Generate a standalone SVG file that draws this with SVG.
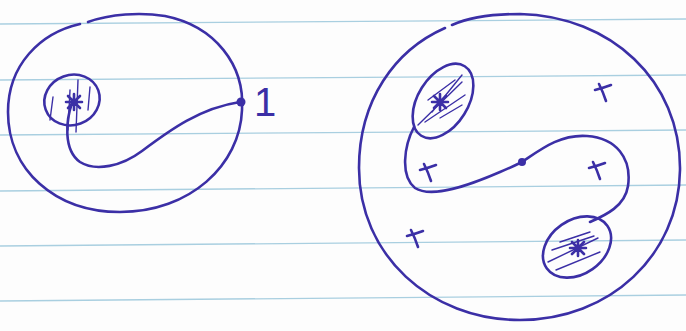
<svg xmlns="http://www.w3.org/2000/svg" width="686" height="331" viewBox="0 0 686 331">
<style>
.rule{stroke:#a9cfe0;stroke-width:1.3;fill:none}
.ink{stroke:#3b2fa6;stroke-width:2.6;fill:none;stroke-linecap:round;stroke-linejoin:round}
.thin{stroke:#3b2fa6;stroke-width:1.4;fill:none;stroke-linecap:round}
.dot{fill:#3b2fa6}
.lbl{font-family:"Liberation Sans",Arial,sans-serif;font-size:40px;fill:#3b2fa6}
</style>
<defs>
<g id="xm"><path class="ink" d="M-8,-2 Q0,-4 8,-7"/><path class="ink" d="M-4,-8 Q0,0 3,9"/></g>
<g id="star"><path class="ink" d="M-6,-6 L6,6 M6,-6 L-6,6 M0,-8 L0,8 M-8,0 L8,0"/></g>
</defs>
<rect width="686" height="331" fill="#fdfdfd"/>
<g id="paper">
<path class="rule" d="M0,24 L686,19"/>
<path class="rule" d="M0,80 L686,75"/>
<path class="rule" d="M0,135 L686,130"/>
<path class="rule" d="M0,191 L686,185"/>
<path class="rule" d="M0,246 L686,240"/>
<path class="rule" d="M0,301 L686,295"/>
</g>
<g id="left-disk">
<path class="ink" d="M88,22 C110,14 140,12 165,16 C215,26 245,65 242,110 C240,165 190,212 120,212 C55,212 8,170 8,112 C8,65 40,33 80,24"/>
</g>
<g id="left-puncture">
<ellipse class="ink" cx="72" cy="100" rx="28" ry="25" transform="rotate(-20 72 100)"/>
<path class="thin" d="M53,97 L50,120 M78,80 L76,132 M90,87 L88,110 M70,90 L68,130"/>
<use href="#star" x="74" y="102"/>
</g>
<g id="right-disk">
<path class="ink" d="M452,25 C470,17 495,14 520,14 C610,16 681,80 680,170 C679,255 610,320 520,320 C430,320 359,255 359,168 C359,100 395,50 445,28"/>
</g>
<g id="upper-puncture">
<ellipse class="ink" cx="443" cy="101" rx="41" ry="25" transform="rotate(-58 443 101)"/>
<path class="thin" d="M418,125 L462,82 M425,122 L465,95 M432,112 L462,75 M428,100 L455,80 M440,118 L462,105"/>
<use href="#star" x="440" y="102"/>
</g>
<g id="lower-puncture">
<ellipse class="ink" cx="577" cy="247" rx="37" ry="27" transform="rotate(-35 577 247)"/>
<path class="thin" d="M548,262 L598,238 M552,250 L594,236 M556,270 L600,252 M560,242 L590,232"/>
<use href="#star" x="578" y="248"/>
</g>
<g id="marks">
<use href="#xm" x="603" y="92"/>
<use href="#xm" x="597" y="170"/>
<use href="#xm" x="428" y="172"/>
<use href="#xm" x="415" y="238"/>
</g>
<g id="connectors">
<path class="ink" d="M72,103 C66,120 63,150 80,162 C96,172 122,166 142,151 C170,130 200,108 240,102"/>
<path class="ink" d="M414,127 C404,146 400,176 415,188 C432,199 470,185 500,172 C512,167 522,162 522,162 C540,150 560,134 587,136 C616,138 632,158 628,186 C625,206 606,215 590,222"/>
</g>
<g id="base-points">
<circle class="dot" cx="241" cy="102" r="4.5"/>
<circle class="dot" cx="522" cy="162" r="4"/>
<text class="lbl" x="254" y="116">1</text>
</g>
</svg>
